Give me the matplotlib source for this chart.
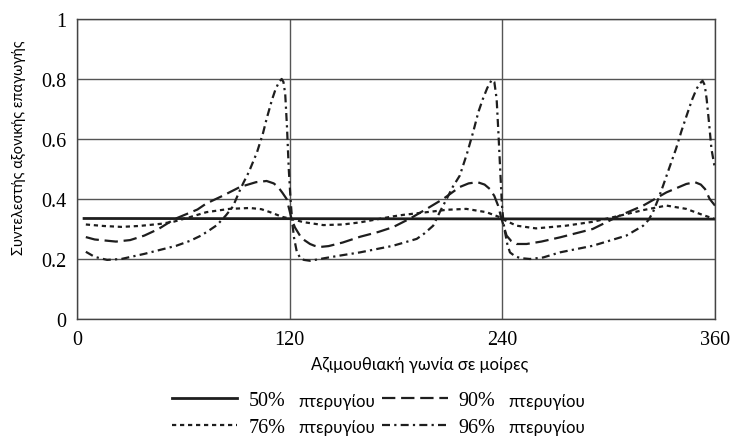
import matplotlib
matplotlib.use("Agg")
import matplotlib.pyplot as plt

# ---- data ----
angle_50 = [4, 360]
coef_50 = [0.335, 0.333]

angle_76 = [5, 15, 25, 35, 47, 55, 64, 73, 86, 97.6, 104, 109, 116, 120, 127.6,
            139, 150, 159.7, 170, 178.3, 184, 197.3, 208.6, 219.7, 231, 238.7,
            240, 248, 259, 276, 291, 306, 319.5, 332.6, 343.8, 353, 360]
coef_76 = [0.315, 0.31, 0.307, 0.31, 0.317, 0.325, 0.34, 0.356, 0.367, 0.37,
           0.366, 0.356, 0.34, 0.335, 0.323, 0.313, 0.315, 0.322, 0.333, 0.342,
           0.347, 0.356, 0.364, 0.367, 0.356, 0.339, 0.333, 0.311, 0.302, 0.311,
           0.324, 0.344, 0.363, 0.378, 0.367, 0.347, 0.333]

angle_90 = [5, 10, 22, 30, 38, 46, 55, 64, 68, 73, 82, 92, 101, 107, 111, 113.5,
            116, 118.3, 120, 121.1, 123, 125.8, 128.5, 131.5, 134, 137, 142,
            150, 159.7, 170, 178.3, 188, 197.3, 206.6, 216, 221, 226, 230, 233,
            235.5, 237.6, 239.6, 242.4, 245, 248, 253.7, 262, 272.5, 291, 306,
            319.5, 332.6, 343.8, 348.7, 352, 354.4, 357, 360]
coef_90 = [0.273, 0.265, 0.258, 0.263, 0.278, 0.30, 0.333, 0.355, 0.365, 0.385,
           0.41, 0.44, 0.456, 0.46, 0.452, 0.44, 0.42, 0.40, 0.36, 0.333, 0.305,
           0.278, 0.262, 0.25, 0.244, 0.24, 0.243, 0.255, 0.274, 0.29, 0.306,
           0.335, 0.367, 0.40, 0.44, 0.452, 0.456, 0.448, 0.433, 0.41, 0.378,
           0.333, 0.278, 0.26, 0.25, 0.25, 0.258, 0.272, 0.30, 0.344, 0.378,
           0.422, 0.45, 0.456, 0.448, 0.433, 0.40, 0.378]

angle_96 = [5, 10, 17, 25, 38, 50, 56, 64, 70, 75, 79, 84, 88, 92, 94, 97, 101.6,
            105, 107, 110, 112, 114, 115.5, 116.5, 117.5, 118.5, 119.5, 120.5,
            121.5, 122.5, 124, 126, 128, 131.5, 140, 148, 159.7, 178.3, 191.7,
            196, 201, 205, 208.6, 212, 216, 220, 223.5, 226.5, 229, 231.5, 234,
            235.5, 236.8, 237.8, 238.7, 239.8, 240.7, 241.5, 242.8, 244.3, 247,
            250, 255.6, 263, 272.5, 291, 310, 319.5, 322.5, 325, 328, 330.7, 334,
            338, 341, 344, 347, 349.6, 351.5, 353, 354.2, 355.3, 356.7, 358, 360]
coef_96 = [0.224, 0.207, 0.197, 0.20, 0.217, 0.235, 0.244, 0.261, 0.278, 0.297,
           0.313, 0.345, 0.375, 0.43, 0.455, 0.49, 0.556, 0.62, 0.667, 0.73,
           0.765, 0.79, 0.80, 0.79, 0.75, 0.64, 0.50, 0.40, 0.32, 0.27, 0.225,
           0.203, 0.197, 0.194, 0.203, 0.211, 0.222, 0.244, 0.267, 0.285, 0.311,
           0.36, 0.40, 0.44, 0.478, 0.55, 0.622, 0.69, 0.733, 0.77, 0.797, 0.79,
           0.733, 0.62, 0.51, 0.378, 0.32, 0.29, 0.25, 0.222, 0.21, 0.203, 0.20,
           0.205, 0.222, 0.244, 0.278, 0.311, 0.33, 0.356, 0.40, 0.444, 0.50,
           0.567, 0.625, 0.678, 0.73, 0.767, 0.785, 0.794, 0.78, 0.733, 0.65,
           0.567, 0.5]

x_ticks = [0, 120, 240, 360]
x_tick_labels = ["0", "120", "240", "360"]
y_ticks = [0, 0.2, 0.4, 0.6, 0.8, 1.0]
y_tick_labels = ["0", "0.2", "0.4", "0.6", "0.8", "1"]

labels = ["50%", "76%", "90%", "96%"]
word = "πτερυγίου"
x_label = "Αζιμουθιακή γωνία σε μοίρες"
y_label = "Συντελεστής αξονικής επαγωγής"

# ---- style ----
plt.rcParams["font.family"] = ["Lato", "DejaVu Sans"]
serif = "Liberation Serif"

fig = plt.figure(figsize=(7.31, 4.39), dpi=100)
ax = fig.add_axes([0.1053, 0.2711, 0.8728, 0.6834])

col = "#1e1e1e"
ax.plot(angle_50, coef_50, color=col, lw=2.0, linestyle="-")
ax.plot(angle_76, coef_76, color=col, lw=1.6, linestyle=(0, (1.9, 1.7)))
ax.plot(angle_90, coef_90, color=col, lw=1.6, linestyle=(0, (6.0, 2.6)))
ax.plot(angle_96, coef_96, color=col, lw=1.6, linestyle=(0, (3.6, 1.9, 1.0, 1.9)))

ax.set_xlim(0, 360)
ax.set_ylim(0, 1)
ax.set_xticks(x_ticks)
ax.set_xticklabels(x_tick_labels, family=serif, fontsize=14.5)
ax.set_yticks(y_ticks)
ax.set_yticklabels(y_tick_labels, family=serif, fontsize=14.5)
ax.tick_params(length=0)
ax.tick_params(axis="y", pad=7.5)
ax.tick_params(axis="x", pad=8)
ax.grid(True, color="#555555", lw=1.0)
for s in ax.spines.values():
    s.set_color("#444444")
    s.set_linewidth(1.0)

ax.set_xlabel(x_label, fontsize=12, va="center")
ax.xaxis.set_label_coords(0.5376, -0.15)
ax.set_ylabel(y_label, fontsize=10.5, va="center")
ax.yaxis.set_label_coords(-0.0909, 0.575)

handles = ax.get_lines()
leg = fig.legend(handles, labels, ncol=2, loc="upper left",
                 bbox_to_anchor=(172 / 731, 1 - 392 / 439), frameon=False,
                 prop={"family": serif, "size": 14.5},
                 handlelength=3.25, handletextpad=0.55, columnspacing=4.8,
                 labelspacing=0.38, borderaxespad=0, borderpad=0)

# the word after each percentage, placed once the legend layout is known
fig.canvas.draw()
inv = fig.transFigure.inverted()
for t in leg.get_texts():
    bb = t.get_window_extent()
    fx, fy = inv.transform((bb.x1 + 13, bb.y0 + 4.5))
    fig.text(fx, fy, word, fontsize=12, va="baseline", ha="left")

fig.savefig("out.png", dpi=100)
